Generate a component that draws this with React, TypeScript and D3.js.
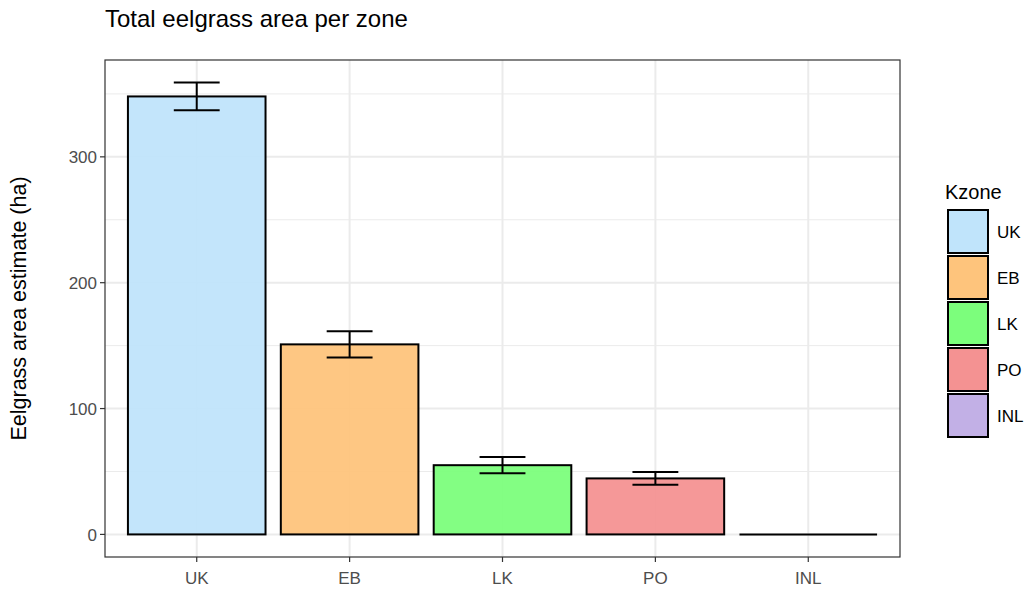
import React from "react";
import * as d3 from "d3";

const zones = ["UK", "EB", "LK", "PO", "INL"];
const areas = [348, 151, 55, 44.5, 0];
const errors = [11, 10.5, 6.5, 5, 0];
const colors = ["#c0e4fb", "#fec47c", "#7cfe7c", "#f49292", "#c2b0e6"];
const yTicks = [0, 100, 200, 300];
const yMinor = [50, 150, 250, 350];

const W = 1028, H = 591;
const panel = { left: 105, right: 900, top: 60, bottom: 557 };

export default function App() {
  const font = "Liberation Sans, Arial, sans-serif";
  const yMax = d3.max(areas.map((a, i) => a + errors[i])) as number;
  const pad = yMax * 0.05;
  const y = d3.scaleLinear().domain([-pad, yMax + pad]).range([panel.bottom, panel.top]);
  const x = d3.scaleLinear().domain([0.4, zones.length + 0.6]).range([panel.left, panel.right]);
  const bw = x(0.9) - x(0);
  const ew = x(0.3) - x(0);
  return (
    <svg width={W} height={H} style={{ position: "absolute", left: 0, top: 0 }} fontFamily={font}>
      <rect width={W} height={H} fill="white" />
      <text x={105} y={27} fontSize={24} fill="black">Total eelgrass area per zone</text>
      {yMinor.map((t) => (
        <line key={"m" + t} x1={panel.left} x2={panel.right} y1={y(t)} y2={y(t)} stroke="#ebebeb" strokeWidth={1} />
      ))}
      {yTicks.map((t) => (
        <line key={"g" + t} x1={panel.left} x2={panel.right} y1={y(t)} y2={y(t)} stroke="#ebebeb" strokeWidth={2} />
      ))}
      {zones.map((z, i) => (
        <line key={"v" + z} x1={x(i + 1)} x2={x(i + 1)} y1={panel.top} y2={panel.bottom} stroke="#ebebeb" strokeWidth={2} />
      ))}
      {zones.map((z, i) =>
        areas[i] > 0 ? (
          <rect key={"b" + z} x={x(i + 1) - bw / 2} width={bw} y={y(areas[i])} height={y(0) - y(areas[i])}
            fill={colors[i]} fillOpacity={0.95} stroke="black" strokeWidth={2} />
        ) : (
          <line key={"b" + z} x1={x(i + 1) - bw / 2} x2={x(i + 1) + bw / 2} y1={y(0)} y2={y(0)} stroke="black" strokeWidth={2} />
        )
      )}
      {zones.map((z, i) => {
        if (errors[i] === 0) return null;
        const cx = x(i + 1);
        const t = y(areas[i] + errors[i]);
        const b = y(areas[i] - errors[i]);
        return (
          <g key={"e" + z} stroke="black" strokeWidth={2}>
            <line x1={cx} x2={cx} y1={t} y2={b} />
            <line x1={cx - ew / 2} x2={cx + ew / 2} y1={t} y2={t} />
            <line x1={cx - ew / 2} x2={cx + ew / 2} y1={b} y2={b} />
          </g>
        );
      })}
      <rect x={panel.left} y={panel.top} width={panel.right - panel.left} height={panel.bottom - panel.top}
        fill="none" stroke="#333333" strokeWidth={1.2} />
      {yTicks.map((t) => (
        <g key={"yt" + t}>
          <line x1={panel.left - 5} x2={panel.left} y1={y(t)} y2={y(t)} stroke="#333333" strokeWidth={1.2} />
          <text x={panel.left - 8} y={y(t)} dy="0.36em" textAnchor="end" fontSize={17} fill="#4d4d4d">{t}</text>
        </g>
      ))}
      {zones.map((z, i) => (
        <g key={"xt" + z}>
          <line x1={x(i + 1)} x2={x(i + 1)} y1={panel.bottom} y2={panel.bottom + 5} stroke="#333333" strokeWidth={1.2} />
          <text x={x(i + 1)} y={panel.bottom + 27} textAnchor="middle" fontSize={17} fill="#4d4d4d">{z}</text>
        </g>
      ))}
      <text transform={`translate(26,${(panel.top + panel.bottom) / 2}) rotate(-90)`} textAnchor="middle" fontSize={21.5} fill="black">
        Eelgrass area estimate (ha)
      </text>
      <text x={945} y={199} fontSize={20} fill="black">Kzone</text>
      {zones.map((z, i) => (
        <g key={"l" + z}>
          <rect x={948} y={210 + i * 46} width={40} height={43} fill={colors[i]} stroke="black" strokeWidth={2} />
          <text x={997} y={210 + i * 46 + 21.5} dy="0.36em" fontSize={17} fill="black">{z}</text>
        </g>
      ))}
    </svg>
  );
}
